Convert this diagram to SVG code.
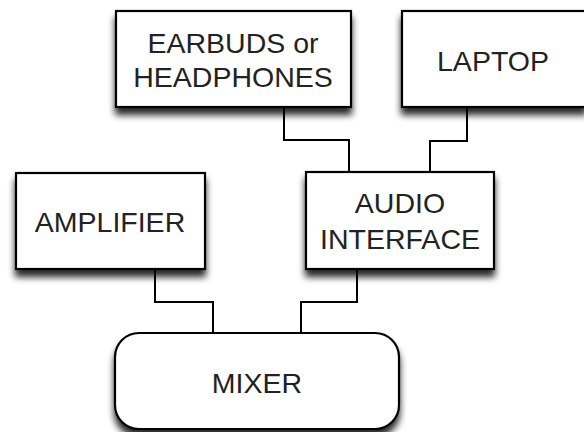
<svg xmlns="http://www.w3.org/2000/svg" width="584" height="432" viewBox="0 0 584 432">
<defs>
<filter id="sh" x="-20%" y="-20%" width="140%" height="150%">
<feGaussianBlur in="SourceAlpha" stdDeviation="3.5"/>
<feOffset dx="0" dy="7" result="b"/>
<feComponentTransfer><feFuncA type="linear" slope="0.85"/></feComponentTransfer>
<feMerge><feMergeNode/><feMergeNode in="SourceGraphic"/></feMerge>
</filter>
<style>
.box{fill:#fff;stroke:#000;stroke-width:2.2;filter:url(#sh)}
.lbl{font-family:"Liberation Sans",Arial,sans-serif;font-size:28.5px;fill:#222;text-anchor:middle}
.con{fill:none;stroke:#000;stroke-width:2}
</style>
</defs>
<rect width="584" height="432" fill="#fff"/>
<g id="connectors">
<polyline class="con" points="284,107 284,140 349,140 349,172"/>
<polyline class="con" points="467,107 467,141 430,141 430,172"/>
<polyline class="con" points="155,269 155,302 213,302 213,333"/>
<polyline class="con" points="357,269 357,302 301,302 301,333"/>
</g>
<g id="earbuds">
<rect class="box" x="116" y="11" width="235" height="96"/>
<text class="lbl" x="233" y="53">EARBUDS or</text>
<text class="lbl" x="233" y="87">HEADPHONES</text>
</g>
<g id="laptop">
<rect class="box" x="402" y="11" width="184" height="96"/>
<text class="lbl" x="493" y="71">LAPTOP</text>
</g>
<g id="amplifier">
<rect class="box" x="16" y="173" width="189" height="96"/>
<text class="lbl" x="110" y="232">AMPLIFIER</text>
</g>
<g id="audio-interface">
<rect class="box" x="306" y="172" width="188" height="97"/>
<text class="lbl" x="400" y="213">AUDIO</text>
<text class="lbl" x="400" y="249">INTERFACE</text>
</g>
<g id="mixer">
<rect class="box" x="115" y="333" width="284" height="96" rx="24" ry="24"/>
<text class="lbl" x="257" y="393">MIXER</text>
</g>
</svg>
